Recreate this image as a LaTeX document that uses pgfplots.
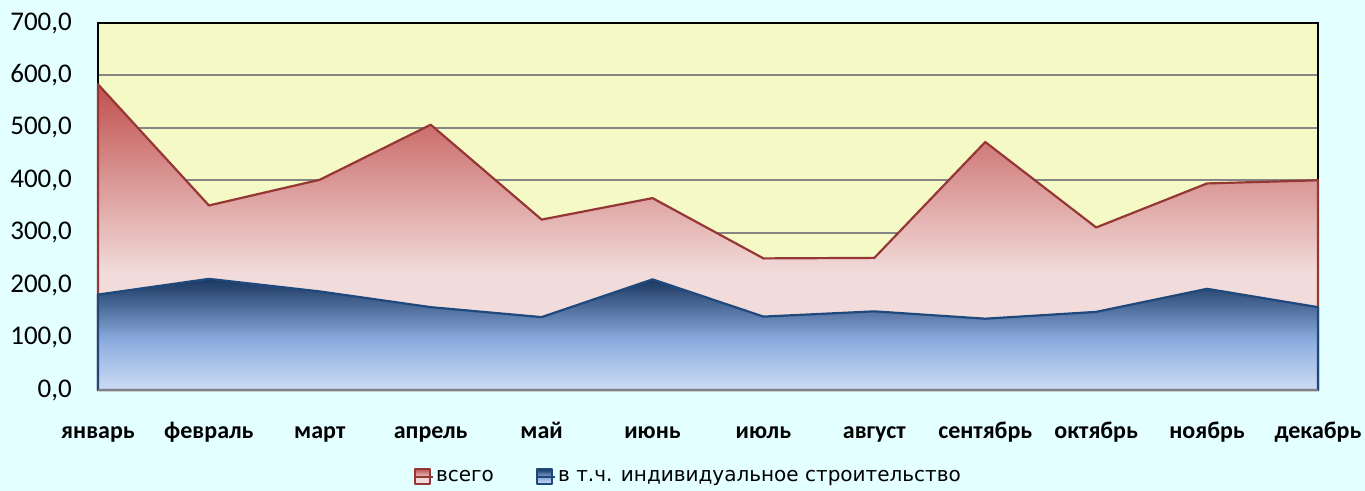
\documentclass[border=0pt]{standalone}
\usepackage{pgfplots}
\pgfplotsset{compat=1.18}
\usepackage{fontspec}
\setmainfont{Carlito}
\newfontfamily\dejavu{DejaVu Sans}
\definecolor{bgc}{RGB}{227,255,255}
\definecolor{plotbg}{RGB}{244,249,198}
\definecolor{gridc}{RGB}{134,134,134}
\definecolor{redline}{RGB}{149,55,53}
\definecolor{redtop}{RGB}{192,80,77}
\definecolor{pinkc}{RGB}{242,220,219}
\definecolor{blueline}{RGB}{31,73,125}
\definecolor{bluetop}{RGB}{25,55,95}
\definecolor{bluemid}{RGB}{138,170,222}
\definecolor{bluebot}{RGB}{205,220,243}
\pgfdeclareverticalshading{redgrad}{100bp}{color(0bp)=(pinkc); color(44bp)=(pinkc); color(75bp)=(redtop); color(100bp)=(redtop)}
\pgfdeclareverticalshading{bluegrad}{100bp}{color(0bp)=(bluebot); color(25bp)=(bluebot); color(48bp)=(bluemid); color(75bp)=(bluetop); color(100bp)=(bluetop)}
\pgfplotstableread{
x total indiv
0 583 182
1 352 212
2 401 188
3 506 158
4 325 139
5 366 211
6 251 140
7 252 150
8 473 136
9 310 149
10 394 193
11 400 158
}\datatable
\begin{document}
\begin{tikzpicture}
\path[use as bounding box, fill=bgc] (0,0) rectangle (1365bp,491bp);
\begin{axis}[
  at={(98bp,101bp)}, anchor=south west,
  scale only axis, width=1220bp, height=367bp,
  xmin=0, xmax=11, ymin=0, ymax=700,
  xtick={0,...,11},
  xticklabels={январь,февраль,март,апрель,май,июнь,июль,август,сентябрь,октябрь,ноябрь,декабрь},
  ytick={0,100,...,700},
  major tick length=0pt,
  ymajorgrids, grid style={gridc, line width=2bp},
  axis line style={black, line width=1.5bp},
  axis background/.style={fill=plotbg},
  /pgf/number format/assume math mode=true,
  yticklabel={\pgfmathprintnumber[fixed,fixed zerofill,precision=1,use comma,1000 sep={}]{\tick}},
  yticklabel style={font=\fontsize{27bp}{30bp}\selectfont, anchor=east, inner sep=0pt, xshift=-26bp},
  xticklabel style={font=\bfseries\fontsize{24bp}{28bp}\selectfont, anchor=base, inner sep=0pt, yshift=-48bp},
  legend style={at={(0.258,-0.236)}, anchor=west, draw=none, fill=none, inner sep=0pt,
    font=\dejavu\fontsize{20bp}{24bp}\selectfont,
    /tikz/every even column/.append style={column sep=39bp}},
  legend columns=2,
  legend image code/.code={\draw[#1, line width=1.5bp] (0.75bp,-7.5bp) rectangle (15.75bp,7.5bp); \path (0,0) -- (19bp,0);},
  clip=false,
]
\addplot[draw=redline, line width=2.2bp, shading=redgrad, line join=round] table[x=x, y=total] {\datatable} \closedcycle;
\addlegendentry{всего}
\addplot[draw=blueline, line width=2.2bp, shading=bluegrad, line join=round] table[x=x, y=indiv] {\datatable} \closedcycle;
\addlegendentry{в т.ч. индивидуальное строительство}
\draw[gray, line width=2bp] (rel axis cs:0,0) -- (rel axis cs:1,0);
\end{axis}
\end{tikzpicture}
\end{document}
